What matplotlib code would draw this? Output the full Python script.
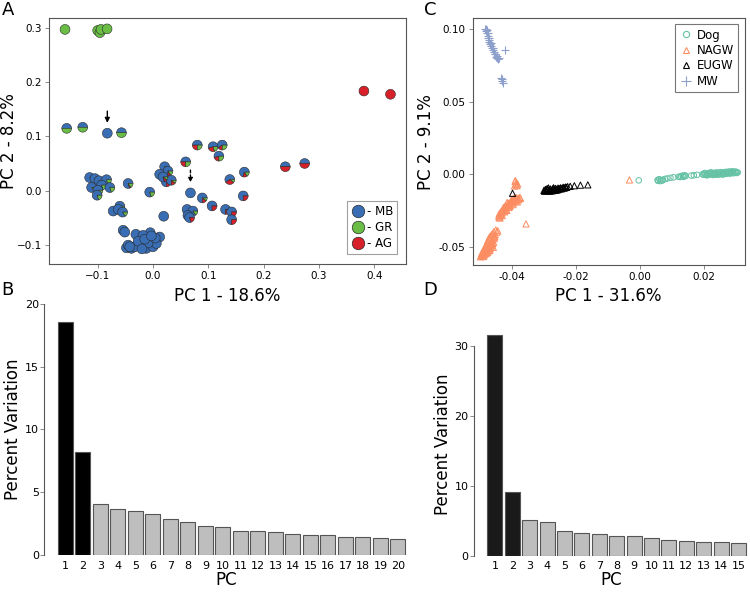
import numpy as np
import matplotlib
matplotlib.use("Agg")
import matplotlib.pyplot as plt
import matplotlib.transforms as mtransforms
from matplotlib.patches import Wedge
from matplotlib.lines import Line2D

plt.rcParams['font.family'] = ['DejaVu Sans']

# ---- panel A: PCA with admixture pies (x, y, frac MB, frac AG, frac GR)
a_x = [-0.159, -0.100, -0.096, -0.094, -0.083, 0.381, 0.429,
       -0.156, -0.127, -0.0826, -0.057, 0.239, 0.274,
       0.080, 0.1085, 0.125, 0.119, 0.059, 0.165, 0.1387, 0.0676, 0.089, 0.1067,
       0.163, 0.131, 0.142, 0.142, 0.0193, 0.0615, 0.072, 0.063, 0.066,
       0.021, 0.027, 0.012, 0.024, 0.033, 0.018,
       -0.006, -0.045,
       -0.1145, -0.105, -0.0977, -0.084, -0.093, -0.111, -0.0995, -0.078, -0.101,
       -0.060, -0.072, -0.063, -0.055, -0.054, -0.051,
       -0.031, -0.005, 0.012, 0.000, -0.048, -0.039, -0.024, -0.012, 0.000, -0.018,
       0.006, -0.009, -0.033, -0.045, -0.027, -0.015, 0.004, -0.042, -0.020, -0.003]
a_y = [0.298, 0.296, 0.292, 0.298, 0.299, 0.184, 0.178,
       0.115, 0.117, 0.106, 0.107, 0.044, 0.050,
       0.084, 0.081, 0.084, 0.0635, 0.053, 0.034, 0.0203, -0.0044, -0.0137, -0.0285,
       -0.010, -0.035, -0.0396, -0.054, -0.0476, -0.035, -0.038, -0.046, -0.050,
       0.044, 0.036, 0.030, 0.016, 0.019, 0.025,
       -0.003, 0.013,
       0.024, 0.022, 0.018, 0.020, 0.010, 0.0056, 0.0005, 0.0055, -0.0087,
       -0.029, -0.038, -0.035, -0.040, -0.0735, -0.077,
       -0.081, -0.078, -0.086, -0.092, -0.106, -0.107, -0.101, -0.107, -0.104, -0.083,
       -0.098, -0.097, -0.104, -0.101, -0.094, -0.090, -0.088, -0.104, -0.108, -0.084]
a_mb = [0, 0, 0, 0, 0, 0, 0,
        .5, .5, 1, .5, .5, .5,
        .5, .55, .6, .55, .5, .7, .6, 1, .75, .75,
        .75, .75, .75, .75, 1, 1, .85, .85, .8,
        .8, .75, .8, .75, .75, .8,
        .8, .8,
        .9, .85, .85, .8, .8, .85, .8, .8, .8,
        .85, 1, .9, .85, 1, 1,
        1, 1, 1, 1, 1, 1, 1, 1, 1, 1, 1, 1, 1, 1, 1, 1, 1, 1, 1, 1]
a_ag = [0, 0, 0, 0, 0, 1, 1,
        0, 0, 0, 0, .5, .5,
        .25, .25, .15, .2, .25, .15, .3, 0, .15, .25,
        .25, .2, .25, .25, 0, 0, 0, .15, .2,
        .1, .1, .15, .2, .15, .1,
        0, .05,
        0, 0, 0, 0, 0, 0, 0, 0, 0,
        0, 0, 0, 0, 0, 0,
        0, 0, 0, 0, 0, 0, 0, 0, 0, 0, 0, 0, 0, 0, 0, 0, 0, 0, 0, 0]
a_gr = [1, 1, 1, 1, 1, 0, 0,
        .5, .5, 0, .5, 0, 0,
        .25, .2, .25, .25, .25, .15, .1, 0, .1, 0,
        0, .05, 0, 0, 0, 0, .15, 0, 0,
        .1, .15, .05, .05, .1, .1,
        .2, .15,
        .1, .15, .15, .2, .2, .15, .2, .2, .2,
        .15, 0, .1, .15, 0, 0,
        0, 0, 0, 0, 0, 0, 0, 0, 0, 0, 0, 0, 0, 0, 0, 0, 0, 0, 0, 0]
a_labels = ['- MB', '- GR', '- AG']

# ---- panel C: PCA of canids
dog_x = [-0.0004, 0.0055, 0.0060, 0.0066, 0.0072, 0.0078, 0.0085, 0.0095, 0.0105,
         0.0120, 0.0128, 0.0133, 0.0138, 0.0143, 0.0160, 0.0168, 0.0178, 0.0195,
         0.0200, 0.0205, 0.0210, 0.0215, 0.0220, 0.0225, 0.0230, 0.0235, 0.0240,
         0.0245, 0.0250, 0.0255, 0.0260, 0.0265, 0.0270, 0.0275, 0.0280, 0.0285,
         0.0290, 0.0295, 0.0300, 0.0305, 0.0232, 0.0248, 0.0262, 0.0212,
         0.0198, 0.0203, 0.0208, 0.0218, 0.0222, 0.0228, 0.0238, 0.0242, 0.0252,
         0.0258, 0.0268, 0.0272, 0.0278, 0.0282, 0.0288, 0.0292, 0.0298, 0.0302,
         0.0056, 0.0063, 0.0070, 0.0125, 0.0135, 0.0140]
dog_y = [-0.0043, -0.0040, -0.0035, -0.0042, -0.0038, -0.0033, -0.0030, -0.0025, -0.0022,
         -0.0018, -0.0014, -0.0010, -0.0016, -0.0012, -0.0010, -0.0008, -0.0005, 0.0000,
         0.0004, -0.0003, 0.0002, 0.0006, -0.0002, 0.0003, 0.0008, 0.0000, 0.0005,
         0.0010, 0.0002, 0.0007, 0.0012, 0.0004, 0.0010, 0.0014, 0.0008, 0.0012,
         0.0016, 0.0010, 0.0014, 0.0012, -0.0004, -0.0002, 0.0000, -0.0006,
         -0.0004, 0.0008, -0.0008, 0.0010, 0.0012, -0.0006, 0.0012, -0.0004, 0.0014,
         -0.0003, 0.0016, 0.0002, 0.0018, 0.0004, 0.0020, 0.0006, 0.0018, 0.0008,
         -0.0046, -0.0048, -0.0044, -0.0020, -0.0018, -0.0008]
nagw_x = [-0.0497, -0.0494, -0.0491, -0.0488, -0.0485, -0.0482, -0.0479, -0.0476,
          -0.0473, -0.0470, -0.0467, -0.0464, -0.0461, -0.0458, -0.0456, -0.0460,
          -0.0456, -0.0452, -0.0490, -0.0485, -0.0480, -0.0476, -0.0472, -0.0468,
          -0.0465, -0.0462, -0.0483, -0.0478, -0.0474, -0.0470, -0.0466, -0.0493,
          -0.0487, -0.0460, -0.0458, -0.0447, -0.0444,
          -0.0495, -0.0492, -0.0489, -0.0486, -0.0481, -0.0477, -0.0474, -0.0471,
          -0.0469, -0.0466, -0.0463, -0.0460, -0.0457, -0.0455, -0.0453, -0.0484,
          -0.0480, -0.0476, -0.0472, -0.0469, -0.0464, -0.0450, -0.0498, -0.0488,
          -0.0438, -0.0435, -0.0432, -0.0428, -0.0425, -0.0421, -0.0417, -0.0413,
          -0.0409, -0.0405, -0.0400, -0.0395, -0.0390, -0.0385, -0.0380, -0.0375,
          -0.0428, -0.0420, -0.0412, -0.0405, -0.0398, -0.0392, -0.0418, -0.0410,
          -0.0402, -0.0388, -0.0380, -0.0440, -0.0433, -0.0415,
          -0.0436, -0.0430, -0.0426, -0.0423, -0.0419, -0.0416, -0.0411, -0.0407,
          -0.0403, -0.0399, -0.0396, -0.0393, -0.0387, -0.0383, -0.0378, -0.0373,
          -0.0441, -0.0437,
          -0.0390, -0.0386, -0.0388, -0.0384, -0.0392, -0.0389, -0.0382,
          -0.0356, -0.0033, -0.0440]
nagw_y = [-0.0565, -0.0555, -0.0548, -0.0540, -0.0532, -0.0525, -0.0515, -0.0505,
          -0.0495, -0.0485, -0.0475, -0.0462, -0.0450, -0.0438, -0.0425, -0.0410,
          -0.0395, -0.0415, -0.0560, -0.0555, -0.0548, -0.0540, -0.0530, -0.0515,
          -0.0500, -0.0490, -0.0510, -0.0495, -0.0470, -0.0455, -0.0440, -0.0540,
          -0.0525, -0.0480, -0.0505, -0.0400, -0.0390,
          -0.0550, -0.0562, -0.0530, -0.0545, -0.0535, -0.0525, -0.0512, -0.0500,
          -0.0525, -0.0485, -0.0470, -0.0458, -0.0470, -0.0445, -0.0432, -0.0500,
          -0.0485, -0.0460, -0.0445, -0.0430, -0.0418, -0.0385, -0.0570, -0.0568,
          -0.0290, -0.0280, -0.0270, -0.0258, -0.0248, -0.0238, -0.0228, -0.0218,
          -0.0208, -0.0198, -0.0190, -0.0182, -0.0175, -0.0170, -0.0165, -0.0160,
          -0.0240, -0.0225, -0.0210, -0.0215, -0.0200, -0.0190, -0.0245, -0.0230,
          -0.0180, -0.0185, -0.0178, -0.0275, -0.0255, -0.0195,
          -0.0265, -0.0285, -0.0230, -0.0260, -0.0215, -0.0250, -0.0200, -0.0225,
          -0.0192, -0.0172, -0.0210, -0.0165, -0.0160, -0.0192, -0.0170, -0.0168,
          -0.0288, -0.0302,
          -0.0050, -0.0060, -0.0072, -0.0080, -0.0082, -0.0045, -0.0068,
          -0.0343, -0.0040, -0.0300]
eugw_x = [-0.0300, -0.0296, -0.0292, -0.0288, -0.0284, -0.0280, -0.0276, -0.0272,
          -0.0268, -0.0264, -0.0260, -0.0256, -0.0252, -0.0248, -0.0244, -0.0240,
          -0.0236, -0.0232, -0.0226, -0.0218, -0.0205, -0.0186, -0.0163, -0.0290,
          -0.0282, -0.0274, -0.0266, -0.0258, -0.0286, -0.0270, -0.0398,
          -0.0298, -0.0294, -0.0278, -0.0262, -0.0254, -0.0246, -0.0238, -0.0230]
eugw_y = [-0.0112, -0.0108, -0.0115, -0.0105, -0.0112, -0.0102, -0.0110, -0.0100,
          -0.0106, -0.0098, -0.0104, -0.0096, -0.0100, -0.0094, -0.0098, -0.0090,
          -0.0094, -0.0088, -0.0086, -0.0084, -0.0080, -0.0076, -0.0074, -0.0100,
          -0.0118, -0.0115, -0.0112, -0.0108, -0.0095, -0.0094, -0.0132,
          -0.0118, -0.0104, -0.0114, -0.0110, -0.0104, -0.0102, -0.0096, -0.0092]
mw_x = [-0.0482, -0.0480, -0.0478, -0.0476, -0.0474, -0.0472, -0.0470, -0.0468,
        -0.0466, -0.0463, -0.0460, -0.0457, -0.0453, -0.0450, -0.0446, -0.0443,
        -0.0470, -0.0465, -0.0458, -0.0452, -0.0420, -0.0433, -0.0431, -0.0429,
        -0.0432, -0.0447, -0.0441, -0.0476, -0.0479, -0.0484]
mw_y = [0.1000, 0.0985, 0.0970, 0.0955, 0.0940, 0.0925, 0.0910, 0.0900,
        0.0885, 0.0870, 0.0855, 0.0840, 0.0825, 0.0810, 0.0800, 0.0795,
        0.0935, 0.0905, 0.0870, 0.0830, 0.0855, 0.0665, 0.0645, 0.0630,
        0.0655, 0.0815, 0.0800, 0.0975, 0.0990, 0.1003]

# ---- panels B and D: scree plots
b_pc = list(range(1, 21))
b_var = [18.6, 8.2, 4.1, 3.65, 3.5, 3.25, 2.9, 2.65, 2.35, 2.2,
         1.95, 1.95, 1.8, 1.65, 1.62, 1.57, 1.43, 1.41, 1.33, 1.25]
d_pc = list(range(1, 16))
d_var = [31.6, 9.1, 5.05, 4.85, 3.5, 3.3, 3.05, 2.8, 2.75, 2.5,
         2.2, 2.05, 1.95, 1.9, 1.8]

c_mb, c_gr, c_ag = '#3a6eb4', '#6abe45', '#d7202a'
spine_col = '#555555'

fig = plt.figure(figsize=(7.5, 5.92), dpi=100)

def style_box(ax):
    for s in ax.spines.values():
        s.set_color(spine_col)
        s.set_linewidth(0.8)
    ax.tick_params(length=3, width=0.6, color='#777777', labelsize=7.5, pad=2)

# A
axA = fig.add_axes([0.0653, 0.554, 0.476, 0.4155])
style_box(axA)
axA.set_xlim(-0.188, 0.457)
axA.set_ylim(-0.136, 0.319)
axA.set_xticks([-0.1, 0.0, 0.1, 0.2, 0.3, 0.4])
axA.set_yticks([-0.1, 0.0, 0.1, 0.2, 0.3])
axA.set_xlabel('PC 1 - 18.6%', fontsize=12, labelpad=4)
axA.set_ylabel('PC 2 - 8.2%', fontsize=12)
axA.yaxis.set_label_coords(-0.088, 0.5)

r = 0.049
for i in range(len(a_x)):
    trans = fig.dpi_scale_trans + mtransforms.ScaledTranslation(a_x[i], a_y[i], axA.transData)
    start = 0.0
    for frac, col in zip([a_mb[i], a_ag[i], a_gr[i]], [c_mb, c_ag, c_gr]):
        if frac <= 0:
            continue
        w = Wedge((0, 0), r, start, start + 360 * frac, transform=trans,
                  facecolor=col, edgecolor='#2a2a2a', linewidth=0.4, zorder=3 + i * 0.01)
        axA.add_artist(w)
        start += 360 * frac

axA.annotate('', xy=(-0.0826, 0.120), xytext=(-0.0826, 0.152),
             arrowprops=dict(arrowstyle='-|>', color='black', lw=1.0, mutation_scale=7))
axA.annotate('', xy=(0.0676, 0.010), xytext=(0.0676, 0.043),
             arrowprops=dict(arrowstyle='-|>', color='black', lw=1.0, mutation_scale=6,
                             linestyle=(0, (2, 1.5))))

hA = [Line2D([], [], marker='o', linestyle='', markersize=9, markerfacecolor=c,
             markeredgecolor='#2a2a2a', markeredgewidth=0.5) for c in [c_mb, c_gr, c_ag]]
legA = axA.legend(hA, a_labels, loc='lower right', bbox_to_anchor=(0.975, 0.04),
                  fontsize=8.5, frameon=True, fancybox=False, handletextpad=0.1,
                  borderpad=0.35, labelspacing=0.25, handlelength=1.2, borderaxespad=0)
legA.get_frame().set_edgecolor('#888888')
legA.get_frame().set_linewidth(0.8)
legA.set_zorder(10)

# C
axC = fig.add_axes([0.630, 0.5524, 0.363, 0.4167])
style_box(axC)
axC.set_xlim(-0.0523, 0.0327)
axC.set_ylim(-0.0626, 0.1074)
axC.set_xticks([-0.04, -0.02, 0.0, 0.02])
axC.set_yticks([-0.05, 0.0, 0.05, 0.10])
axC.xaxis.set_major_formatter(matplotlib.ticker.FormatStrFormatter('%.2f'))
axC.yaxis.set_major_formatter(matplotlib.ticker.FormatStrFormatter('%.2f'))
axC.set_xlabel('PC 1 - 31.6%', fontsize=12, labelpad=4)
axC.set_ylabel('PC 2 - 9.1%', fontsize=12, labelpad=3)

col_dog, col_nagw, col_eugw, col_mw = '#66c2a5', '#fc8d62', '#000000', '#8da0cb'
axC.scatter(dog_x, dog_y, s=16, marker='o', facecolors='none', edgecolors=col_dog, linewidths=0.7)
axC.scatter(nagw_x, nagw_y, s=20, marker='^', facecolors='none', edgecolors=col_nagw, linewidths=0.7)
axC.scatter(eugw_x, eugw_y, s=20, marker='^', facecolors='none', edgecolors=col_eugw, linewidths=0.7)
axC.scatter(mw_x, mw_y, s=26, marker='+', color=col_mw, linewidths=0.8)

hC = [Line2D([], [], marker='o', linestyle='', markersize=4.5, markerfacecolor='none',
             markeredgecolor=col_dog, markeredgewidth=0.8),
      Line2D([], [], marker='^', linestyle='', markersize=5, markerfacecolor='none',
             markeredgecolor=col_nagw, markeredgewidth=0.8),
      Line2D([], [], marker='^', linestyle='', markersize=5, markerfacecolor='none',
             markeredgecolor=col_eugw, markeredgewidth=0.8),
      Line2D([], [], marker='+', linestyle='', markersize=7, markeredgecolor=col_mw,
             markeredgewidth=0.8)]
legC = axC.legend(hC, ['Dog', 'NAGW', 'EUGW', 'MW'], loc='upper right',
                  bbox_to_anchor=(0.975, 0.975), fontsize=8.5, frameon=True, fancybox=False,
                  handletextpad=0.3, borderpad=0.35, labelspacing=0.2, handlelength=1.2,
                  borderaxespad=0)
legC.get_frame().set_edgecolor('#555555')
legC.get_frame().set_linewidth(0.8)

# B and D
def scree(ax, pcs, vals, dark, top, yt):
    cols = [dark if p <= 2 else '#bebebe' for p in pcs]
    ax.bar(pcs, vals, width=0.86, color=cols, edgecolor='#555555', linewidth=0.8)
    ax.set_xlim(-0.2, len(pcs) + 0.6)
    ax.set_ylim(0, top)
    ax.set_yticks(yt)
    ax.set_xticks(pcs)
    for s in ['top', 'right', 'bottom']:
        ax.spines[s].set_visible(False)
    ax.spines['left'].set_bounds(yt[0], yt[-1])
    ax.spines['left'].set_color(spine_col)
    ax.spines['left'].set_linewidth(0.8)
    ax.tick_params(axis='y', length=3, width=0.6, color='#777777', labelsize=8, pad=1)
    ax.tick_params(axis='x', length=0, labelsize=8, pad=4)
    ax.set_xlabel('PC', fontsize=12, labelpad=0)
    ax.set_ylabel('Percent Variation', fontsize=12, labelpad=2)

axB = fig.add_axes([0.0593, 0.0625, 0.4853, 0.424])
scree(axB, b_pc, b_var, '#000000', 20, [0, 5, 10, 15, 20])

axD = fig.add_axes([0.632, 0.0613, 0.3665, 0.378])
scree(axD, d_pc, d_var, '#1a1a1a', 32, [0, 10, 20, 30])

for lab, x, y in [('A', 0.002, 0.998), ('B', 0.002, 0.525), ('C', 0.565, 0.998), ('D', 0.565, 0.525)]:
    fig.text(x, y, lab, fontsize=13, ha='left', va='top')

fig.savefig('out.png', dpi=100)
